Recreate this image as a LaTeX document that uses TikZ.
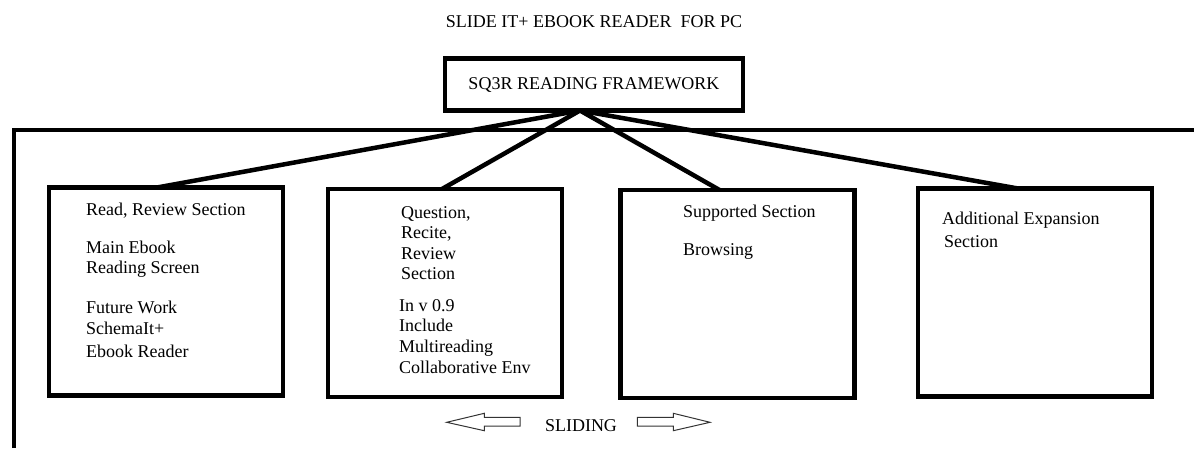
\documentclass[tikz,border=0pt]{standalone}
\usepackage{fontspec}
\setmainfont{Liberation Serif}
\tikzset{
    secbox/.style={
        draw,
        line width=4.5pt,
        minimum width=234pt,
        minimum height=208pt,
        outer sep=0pt
    },
    headbox/.style={
        draw,
        line width=4.5pt,
        minimum width=298pt,
        minimum height=52pt,
        outer sep=0pt,
        font=\fontsize{18}{21}\selectfont
    },
    link/.style={line width=4.5pt},
    txt/.style={anchor=base west, inner sep=0pt, font=\fontsize{18}{21}\selectfont},
    slide/.style={draw=black!80, line width=1pt}
}

\begin{document}
\begin{tikzpicture}[x=1pt,y=-1pt]
  \useasboundingbox (0,0) rectangle (1194,448);
  \node[txt, anchor=base] (title) at (594,27) {SLIDE IT+ EBOOK READER~ FOR PC};
  \node[headbox] (sq) at (594,84.5) {SQ3R READING FRAMEWORK};
  \draw[link] (14,448) -- (14,130) -- (1194,130);

  \node[secbox] (b1) at (166,291.5) {};
  \node[secbox] (b2) at (445,293) {};
  \node[secbox] (b3) at (737.5,294) {};
  \node[secbox] (b4) at (1035,292.5) {};

  \coordinate (hub) at ([xshift=-14pt]sq.south);
  \draw[link] (hub) -- ([xshift=-9pt]b1.north);
  \draw[link] (hub) -- ([xshift=-3pt]b2.north);
  \draw[link] (hub) -- ([xshift=-18pt]b3.north);
  \draw[link] (hub) -- ([xshift=-17pt]b4.north);

  \foreach \y/\lbl [count=\i] in {215.7/{Read, Review Section}, 253/Main Ebook,
      273/Reading Screen, 313.7/Future Work, 334/SchemaIt+, 357.6/Ebook Reader}
    \node[txt] (r\i) at (86,\y) {\lbl};
  \foreach \x/\y/\lbl [count=\i] in {401/218.4/{Question,}, 401/238.7/{Recite,},
      401/259/Review, 401/279/Section, 399/311/In v 0.9, 399/331.6/Include,
      399/352.9/Multireading, 399/373/Collaborative Env}
    \node[txt] (q\i) at (\x,\y) {\lbl};
  \node[txt] (s1) at (683,217.4) {Supported Section};
  \node[txt] (s2) at (683,255.8) {Browsing};
  \node[txt] (e1) at (942,224.8) {Additional Expansion};
  \node[txt] (e2) at (944,247) {Section};

  \draw[slide] (446.7,422.3) -- (484.3,413.3) -- (484.3,417.3) -- (520,417.3)
    -- (520,426) -- (484.3,426) -- (484.3,430.7) -- cycle;
  \draw[slide] (710,422.3) -- (673.3,413.3) -- (673.3,417.3) -- (637.3,417.3)
    -- (637.3,426) -- (673.3,426) -- (673.3,430.7) -- cycle;
  \node[txt, anchor=base] (sliding) at (581,431.7) {SLIDING};
\end{tikzpicture}
\end{document}
